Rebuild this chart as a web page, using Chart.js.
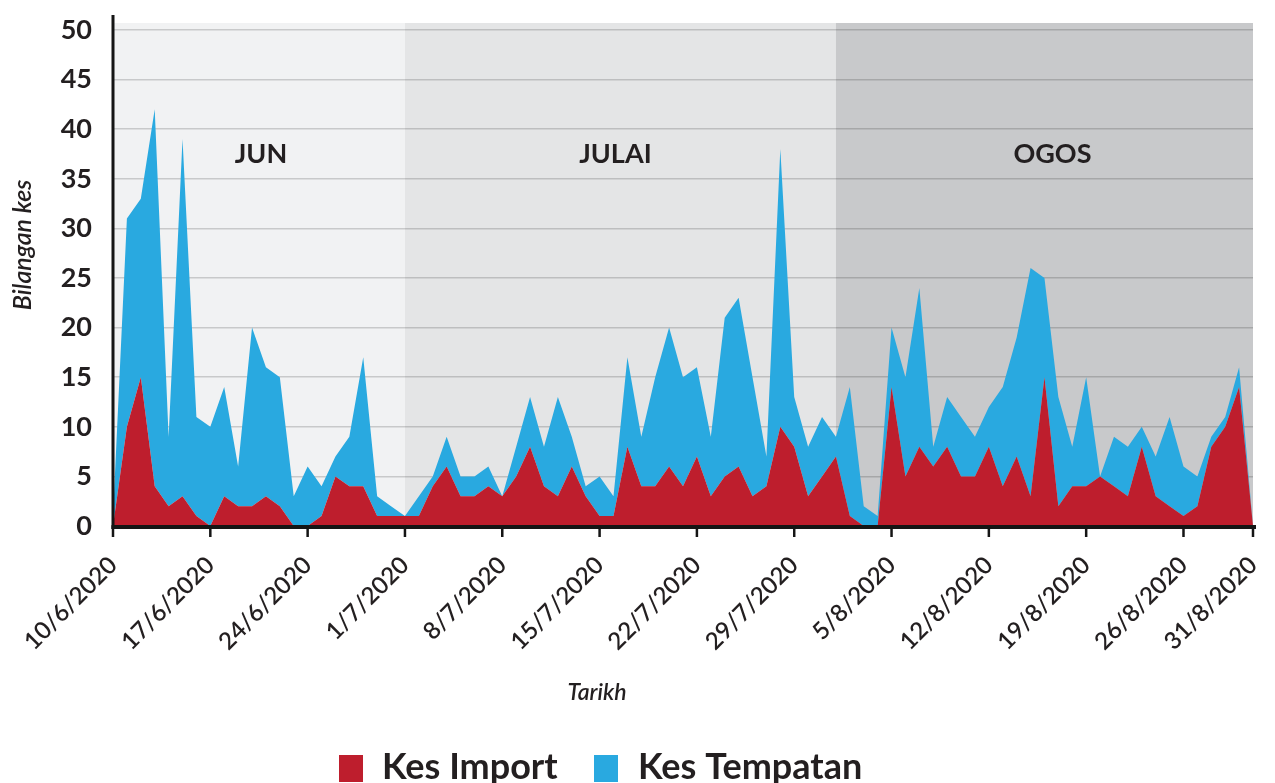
<!DOCTYPE html>
<html>
<head>
<meta charset="utf-8">
<script src="https://cdn.jsdelivr.net/npm/chart.js@4.4.1/dist/chart.umd.min.js"></script>
<style>
  html, body { margin: 0; padding: 0; background: #fff; }
  #wrap { width: 1275px; height: 783px; }
</style>
</head>
<body>
<div id="wrap"><canvas id="kesChart"></canvas></div>
<script>
// daily dates, 10 June - 31 August 2020
const dates = [
  '10/6/2020','11/6/2020','12/6/2020','13/6/2020','14/6/2020','15/6/2020','16/6/2020','17/6/2020','18/6/2020','19/6/2020',
  '20/6/2020','21/6/2020','22/6/2020','23/6/2020','24/6/2020','25/6/2020','26/6/2020','27/6/2020','28/6/2020','29/6/2020','30/6/2020',
  '1/7/2020','2/7/2020','3/7/2020','4/7/2020','5/7/2020','6/7/2020','7/7/2020','8/7/2020','9/7/2020','10/7/2020',
  '11/7/2020','12/7/2020','13/7/2020','14/7/2020','15/7/2020','16/7/2020','17/7/2020','18/7/2020','19/7/2020','20/7/2020',
  '21/7/2020','22/7/2020','23/7/2020','24/7/2020','25/7/2020','26/7/2020','27/7/2020','28/7/2020','29/7/2020','30/7/2020','31/7/2020',
  '1/8/2020','2/8/2020','3/8/2020','4/8/2020','5/8/2020','6/8/2020','7/8/2020','8/8/2020','9/8/2020','10/8/2020',
  '11/8/2020','12/8/2020','13/8/2020','14/8/2020','15/8/2020','16/8/2020','17/8/2020','18/8/2020','19/8/2020','20/8/2020',
  '21/8/2020','22/8/2020','23/8/2020','24/8/2020','25/8/2020','26/8/2020','27/8/2020','28/8/2020','29/8/2020','30/8/2020','31/8/2020'
];

const kesImport = [
  0, 10, 15, 4, 2, 3, 1, 0, 3, 2, 2, 3, 2, 0, 0, 1, 5, 4, 4, 1, 1,
  1, 1, 4, 6, 3, 3, 4, 3, 5, 8, 4, 3, 6, 3, 1, 1, 8, 4, 4, 6, 4, 7, 3, 5, 6, 3, 4, 10, 8, 3, 5,
  7, 1, 0, 0, 14, 5, 8, 6, 8, 5, 5, 8, 4, 7, 3, 15, 2, 4, 4, 5, 4, 3, 8, 3, 2, 1, 2, 8, 10, 14, 0
];

const kesTempatan = [
  1, 21, 18, 38, 7, 36, 10, 10, 11, 4, 18, 13, 13, 3, 6, 3, 2, 5, 13, 2, 1,
  0, 2, 1, 3, 2, 2, 2, 0, 3, 5, 4, 10, 3, 1, 4, 2, 9, 5, 11, 14, 11, 9, 6, 16, 17, 12, 3, 28, 5, 5, 6,
  2, 13, 2, 1, 6, 10, 16, 2, 5, 6, 4, 4, 10, 12, 23, 10, 11, 4, 11, 0, 5, 5, 2, 4, 9, 5, 3, 1, 1, 2, 0
];

const tickDates = ['10/6/2020','17/6/2020','24/6/2020','1/7/2020','8/7/2020','15/7/2020','22/7/2020',
  '29/7/2020','5/8/2020','12/8/2020','19/8/2020','26/8/2020','31/8/2020'];

const months = ['JUN', 'JULAI', 'OGOS'];
const monthStarts = ['10/6/2020', '1/7/2020', '1/8/2020'];
const monthColors = ['#f1f2f3', '#e4e5e6', '#c8c9cb'];
const monthNudge = [2, -5, 8];

const RED = '#be1e2d';
const BLUE = '#29a9e0';
const FONT = 'Lato, "Open Sans", sans-serif';

function monthBounds(chart, i) {
  const { chartArea: a, scales: { x } } = chart;
  const x0 = i === 0 ? a.left : x.getPixelForValue(dates.indexOf(monthStarts[i]));
  const x1 = i === months.length - 1 ? a.right : x.getPixelForValue(dates.indexOf(monthStarts[i + 1]));
  return [x0, x1];
}

const decorPlugin = {
  id: 'decor',
  beforeDraw(chart) {
    const { ctx, chartArea: a } = chart;
    ctx.save();
    for (let i = 0; i < months.length; i++) {
      const [x0, x1] = monthBounds(chart, i);
      ctx.fillStyle = monthColors[i];
      ctx.fillRect(x0, a.top - 7, x1 - x0, a.bottom - a.top + 7);
    }
    ctx.restore();
  },
  afterDraw(chart) {
    const { ctx, chartArea: a, scales: { x } } = chart;
    ctx.save();

    // month names
    ctx.fillStyle = '#231f20';
    ctx.font = 'bold 27px ' + FONT;
    ctx.textAlign = 'center';
    ctx.textBaseline = 'middle';
    for (let i = 0; i < months.length; i++) {
      const [x0, x1] = monthBounds(chart, i);
      ctx.fillText(months[i], (x0 + x1) / 2 + monthNudge[i], 154);
    }

    // axis lines and tick marks
    ctx.strokeStyle = '#151515';
    ctx.lineWidth = 3;
    ctx.beginPath();
    ctx.moveTo(a.left, a.top - 15);
    ctx.lineTo(a.left, a.bottom + 3);
    ctx.stroke();
    ctx.lineWidth = 4;
    ctx.beginPath();
    ctx.moveTo(a.left - 1.5, a.bottom + 1);
    ctx.lineTo(a.right + 3, a.bottom + 1);
    ctx.stroke();
    ctx.lineWidth = 2.5;
    tickDates.forEach(d => {
      const px = x.getPixelForValue(dates.indexOf(d));
      ctx.beginPath();
      ctx.moveTo(px, a.bottom);
      ctx.lineTo(px, a.bottom + 11);
      ctx.stroke();
    });

    // axis titles
    ctx.fillStyle = '#231f20';
    ctx.font = 'italic 600 23px ' + FONT;
    ctx.fillText('Tarikh', 597, 693);
    ctx.font = 'italic 600 25px ' + FONT;
    ctx.save();
    ctx.translate(23, 245);
    ctx.rotate(-Math.PI / 2);
    ctx.fillText('Bilangan kes', 0, 0);
    ctx.restore();

    // legend
    const items = chart.data.datasets.map(ds => ({ label: ds.label, color: ds.backgroundColor }));
    const boxX = [339, 594];
    const textX = [382, 638];
    ctx.font = 'bold 36px ' + FONT;
    ctx.textAlign = 'left';
    ctx.textBaseline = 'alphabetic';
    items.forEach((it, i) => {
      ctx.fillStyle = it.color;
      ctx.fillRect(boxX[i], 755, 24, 27);
      ctx.fillStyle = '#231f20';
      ctx.fillText(it.label, textX[i], 779);
    });
    ctx.restore();
  }
};

new Chart(document.getElementById('kesChart'), {
  type: 'line',
  data: {
    labels: dates,
    datasets: [{
      label: 'Kes Import',
      data: kesImport,
      backgroundColor: RED,
      borderWidth: 0,
      pointRadius: 0,
      fill: 'origin',
      tension: 0
    }, {
      label: 'Kes Tempatan',
      data: kesTempatan,
      backgroundColor: BLUE,
      borderWidth: 0,
      pointRadius: 0,
      fill: '-1',
      tension: 0
    }]
  },
  options: {
    responsive: true,
    maintainAspectRatio: false,
    animation: false,
    layout: { padding: { top: 30, right: 22, left: 0, bottom: 0 } },
    plugins: {
      legend: { display: false },
      tooltip: { enabled: false }
    },
    scales: {
      x: {
        type: 'category',
        grid: { display: false },
        border: { display: false },
        ticks: {
          autoSkip: false,
          maxRotation: 45,
          minRotation: 45,
          padding: 17,
          color: '#231f20',
          font: { family: FONT, size: 24, weight: '600' },
          callback: (v, i) => tickDates.includes(dates[i]) ? dates[i] : ''
        },
        afterFit: scale => {
          scale.height = 257;
          scale.paddingLeft = 0;
          scale.paddingRight = 0;
        }
      },
      y: {
        stacked: true,
        min: 0,
        max: 50,
        grid: {
          color: 'rgba(0,0,0,0.17)',
          lineWidth: 1.5,
          drawTicks: false
        },
        border: { display: false },
        ticks: {
          stepSize: 5,
          padding: 21,
          color: '#231f20',
          font: { family: FONT, size: 27, weight: 'bold' }
        },
        afterFit: scale => {
          scale.width = 113;
          scale.paddingTop = 0;
          scale.paddingBottom = 0;
        }
      }
    }
  },
  plugins: [decorPlugin]
});
</script>
</body>
</html>
